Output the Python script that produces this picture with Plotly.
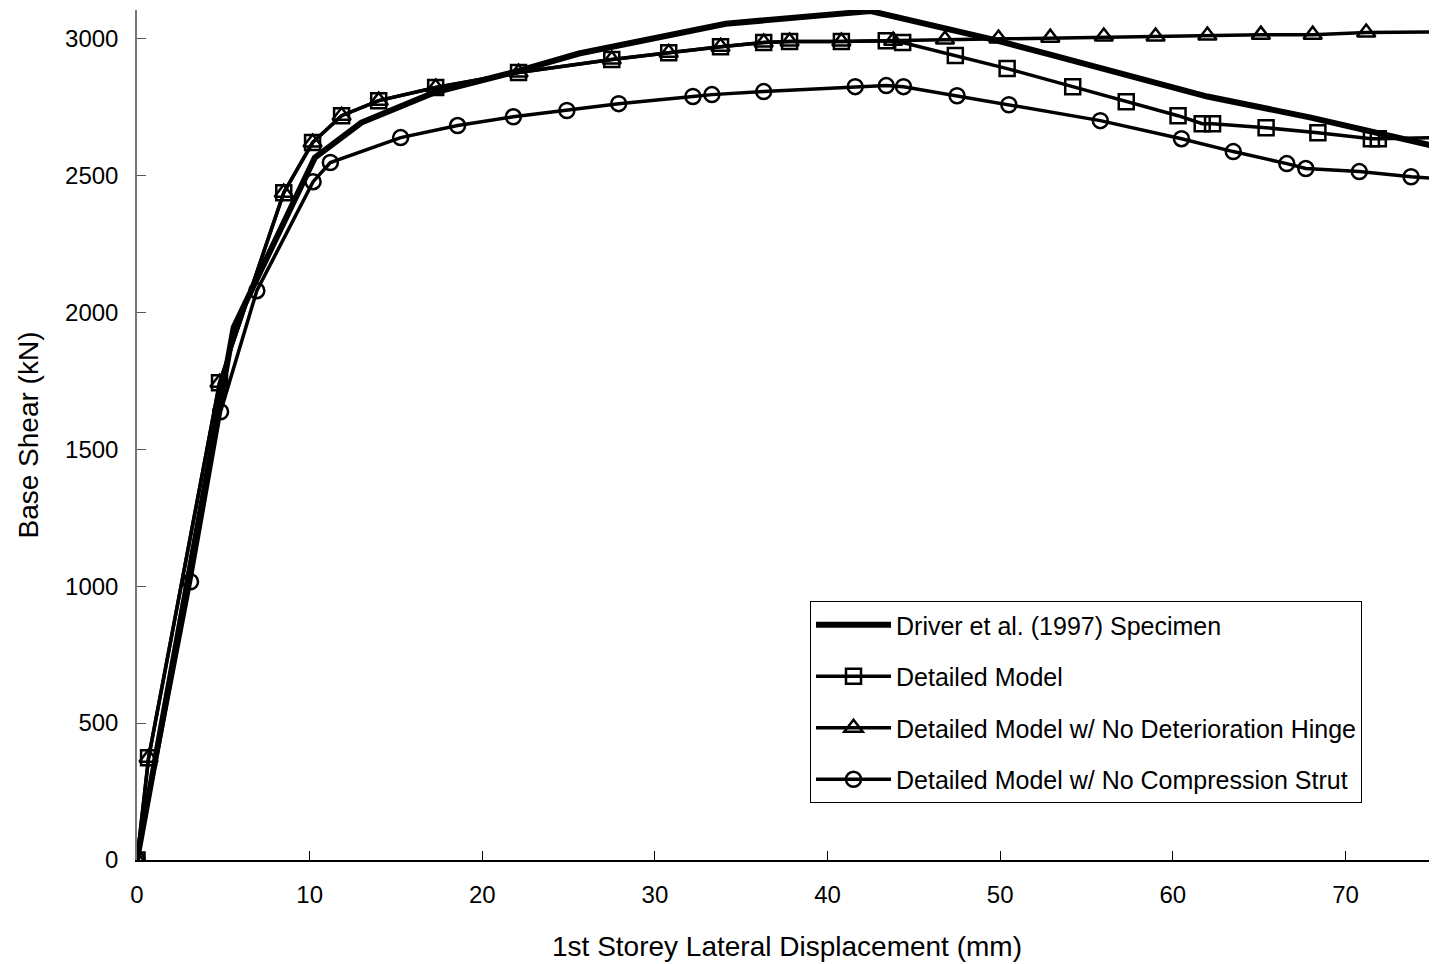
import plotly.graph_objects as go

# Driver et al. (1997) Specimen
driver_x = [0, 5.6, 10.3, 13.0, 17.2, 22.0, 25.6, 34.1, 42.5, 49.6, 52.9, 58.7, 62.0, 68.0, 71.9, 75.3]
driver_y = [0, 1945, 2565, 2693, 2802, 2880, 2945, 3054, 3100, 2996, 2941, 2843, 2788, 2711, 2656, 2605]

# Detailed Model
dm_x = [0, 0.67, 4.78, 8.5, 10.17, 11.85, 14.0, 17.3, 22.1, 27.5, 30.8, 33.8, 36.3, 37.8, 40.8, 43.4,
        44.35, 47.4, 50.4, 54.2, 57.3, 60.3, 61.7, 62.3, 65.4, 68.4, 71.5, 71.9, 77.0]
dm_y = [0, 373, 1743, 2437, 2620, 2718, 2773, 2821, 2876, 2923, 2948, 2970, 2985, 2989, 2989, 2992,
        2985, 2938, 2890, 2824, 2769, 2718, 2689, 2689, 2674, 2656, 2634, 2634, 2640]

# Detailed Model w/ No Deterioration Hinge
nd_x = [0, 0.67, 4.78, 8.5, 10.17, 11.85, 14.0, 17.3, 22.1, 27.5, 30.8, 33.8, 36.3, 37.8, 40.8, 43.8,
        46.8, 49.9, 52.9, 56.0, 59.0, 62.0, 65.1, 68.1, 71.2, 77.0]
nd_y = [0, 373, 1743, 2437, 2620, 2718, 2773, 2821, 2876, 2923, 2948, 2970, 2985, 2989, 2989, 2992,
        2996, 3000, 3003, 3007, 3007, 3011, 3014, 3014, 3022, 3025]

# Detailed Model w/ No Compression Strut
nc_x = [0, 3.1, 4.84, 6.94, 10.2, 11.2, 15.27, 18.57, 21.8, 24.9, 27.9, 32.2, 33.3, 36.3, 41.6, 43.4,
        44.4, 47.5, 50.5, 55.8, 60.5, 63.5, 66.6, 67.7, 70.8, 73.8, 77.0]
nc_y = [0, 1016, 1637, 2079, 2477, 2547, 2638, 2682, 2714, 2737, 2762, 2788, 2795, 2806, 2824, 2828,
        2824, 2791, 2758, 2700, 2634, 2587, 2543, 2525, 2514, 2495, 2482]

x_ticks = [0, 10, 20, 30, 40, 50, 60, 70]
y_ticks = [0, 500, 1000, 1500, 2000, 2500, 3000]

FONT = "Liberation Sans, Arial, sans-serif"

fig = go.Figure()
fig.add_trace(go.Scatter(x=driver_x, y=driver_y, mode="lines", name="Driver et al. (1997) Specimen",
                         line=dict(color="black", width=6), legendgroup="a"))
fig.add_trace(go.Scatter(x=dm_x, y=dm_y, mode="lines+markers", name="Detailed Model",
                         line=dict(color="black", width=3.5), legendgroup="b",
                         marker=dict(symbol="square-open", size=15, color="black", line=dict(width=2.5))))
fig.add_trace(go.Scatter(x=nd_x, y=nd_y, mode="lines+markers", name="Detailed Model w/ No Deterioration Hinge",
                         line=dict(color="black", width=3.5), legendgroup="c",
                         marker=dict(symbol="triangle-up-open", size=16, color="black", line=dict(width=2.5))))
fig.add_trace(go.Scatter(x=nc_x, y=nc_y, mode="lines+markers", name="Detailed Model w/ No Compression Strut",
                         line=dict(color="black", width=3.5), legendgroup="d",
                         marker=dict(symbol="circle-open", size=15, color="black", line=dict(width=2.5))))

fig.update_layout(
    width=1429, height=956,
    margin=dict(l=129, r=0, t=2, b=104),
    paper_bgcolor="white", plot_bgcolor="white",
    font=dict(family=FONT, size=24, color="black"),
    legend=dict(x=0.5177, y=0.3047, xanchor="left", yanchor="top",
                bgcolor="white", bordercolor="black", borderwidth=1,
                font=dict(size=25), traceorder="grouped", tracegroupgap=16,
                itemwidth=75, entrywidth=560, entrywidthmode="pixels"),
    xaxis=dict(range=[0, 75.3], tickmode="array", tickvals=x_ticks, ticks="inside", ticklen=9,
               showgrid=False, zeroline=False, showline=True, linecolor="black", linewidth=1.5,
               tickcolor="black", ticklabelstandoff=12,
               title=dict(text="1st Storey Lateral Displacement (mm)", font=dict(size=28), standoff=30)),
    yaxis=dict(range=[0, 3104], tickmode="array", tickvals=y_ticks, ticks="inside", ticklen=9,
               showgrid=False, zeroline=False, showline=True, linecolor="#777", linewidth=1.5,
               tickcolor="#555", ticklabelstandoff=12,
               title=dict(text="Base Shear (kN)", font=dict(size=28), standoff=18)),
)

fig.write_html("out.html")
